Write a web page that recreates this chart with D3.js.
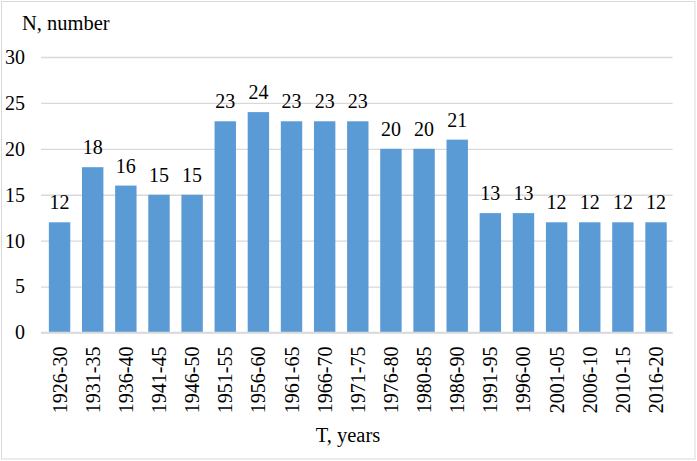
<!DOCTYPE html>
<html>
<head>
<meta charset="utf-8">
<script src="https://cdn.jsdelivr.net/npm/d3@7"></script>
<style>
  html, body { margin: 0; padding: 0; background: #fff; }
  svg { display: block; }
  text { font-family: "Liberation Serif", "Times New Roman", serif; fill: #000; }
</style>
</head>
<body>
<svg id="chart" width="697" height="461"></svg>
<script>
const categories = ["1926-30","1931-35","1936-40","1941-45","1946-50","1951-55","1956-60","1961-65","1966-70","1971-75","1976-80","1980-85","1986-90","1991-95","1996-00","2001-05","2006-10","2010-15","2016-20"];
const values = [12,18,16,15,15,23,24,23,23,23,20,20,21,13,13,12,12,12,12];
const yTicks = [0,5,10,15,20,25,30];
const yTitle = "N, number";
const xTitle = "T, years";

const W = 697, H = 461;
const FONT = "'Liberation Serif', 'Times New Roman', serif";
const svg = d3.select("#chart");

// outer border
svg.append("rect").attr("x", 1.5).attr("y", 1.5).attr("width", W - 3.5).attr("height", H - 3.5)
  .attr("fill", "#fff").attr("stroke", "#d9d9d9").attr("stroke-width", 1);

const x = d3.scaleBand().domain(categories).range([43, 672.6]).paddingInner(0.354).paddingOuter(0.177);
const y = d3.scaleLinear().domain([0, 30]).range([332.5, 57]);

// gridlines + y tick labels
const yAxis = d3.axisLeft(y).tickValues(yTicks).tickSize(-(672.6 - 41)).tickPadding(16);
const gy = svg.append("g").attr("transform", "translate(41,0)").call(yAxis);
gy.attr("font-family", null);
gy.select(".domain").remove();
gy.selectAll(".tick line").attr("stroke", "#d9d9d9").attr("stroke-width", 1.3);
gy.selectAll(".tick text").attr("font-size", 20).attr("x", -16)
  .style("font-family", FONT).attr("fill", "#000");

// bars
svg.append("g").selectAll("rect").data(values).join("rect")
  .attr("x", (d, i) => x(categories[i]))
  .attr("width", x.bandwidth())
  .attr("y", d => y(d))
  .attr("height", d => y(0) - y(d))
  .attr("fill", "#5b9bd5");

// baseline
svg.append("line").attr("x1", 41).attr("x2", 672.6).attr("y1", y(0)).attr("y2", y(0))
  .attr("stroke", "#d9d9d9").attr("stroke-width", 1.3);

// value labels
svg.append("g").selectAll("text").data(values).join("text")
  .attr("x", (d, i) => x(categories[i]) + x.bandwidth() / 2)
  .attr("y", d => y(d) - 13)
  .attr("text-anchor", "middle")
  .attr("font-size", 20)
  .style("font-family", FONT)
  .text(d => d);

// x axis labels (rotated)
const xAxis = d3.axisBottom(x).tickSize(0).tickPadding(0);
const gx = svg.append("g").attr("transform", `translate(0,${y(0)})`).call(xAxis);
gx.attr("font-family", null);
gx.select(".domain").remove();
gx.selectAll(".tick text")
  .attr("font-size", 20)
  .style("font-family", FONT)
  .attr("fill", "#000")
  .attr("transform", "rotate(-90)")
  .attr("x", -14)
  .attr("y", 0)
  .attr("dy", "0.35em")
  .attr("text-anchor", "end");

// titles
svg.append("text").attr("x", 22).attr("y", 30).attr("font-size", 20.5).style("font-family", FONT).text(yTitle);
svg.append("text").attr("x", 348).attr("y", 442).attr("text-anchor", "middle").attr("font-size", 20.5).style("font-family", FONT).text(xTitle);
</script>
</body>
</html>
